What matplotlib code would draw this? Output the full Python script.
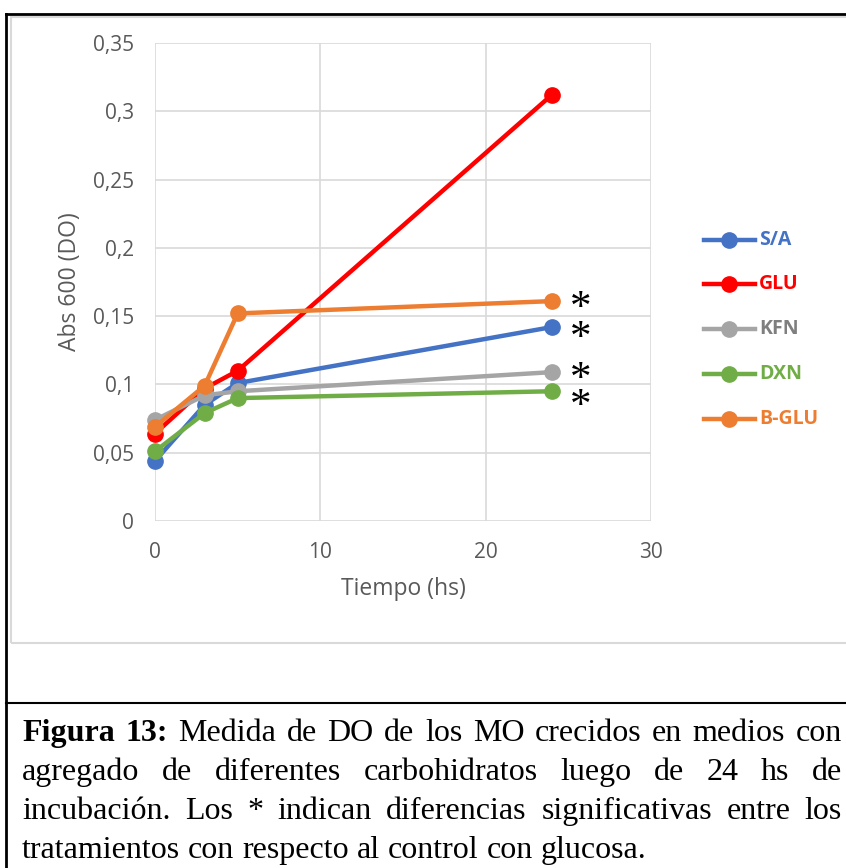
import matplotlib.pyplot as plt
from matplotlib.lines import Line2D
from matplotlib.patches import Rectangle

# datos
tiempo = [0, 3, 5, 24]
sa = [0.044, 0.085, 0.101, 0.142]
glu = [0.064, 0.097, 0.110, 0.312]
kfn = [0.074, 0.092, 0.095, 0.109]
dxn = [0.051, 0.079, 0.090, 0.095]
bglu = [0.069, 0.099, 0.152, 0.161]

nombres = ['S/A', 'GLU', 'KFN', 'DXN', 'B-GLU']
colores = ['#4472c4', '#ff0000', '#a5a5a5', '#70ad47', '#ed7d31']
colores_txt = ['#4472c4', '#ff0000', '#7f7f7f', '#70ad47', '#ed7d31']
series = [sa, glu, kfn, dxn, bglu]

# posiciones de los asteriscos (valor y)
ast_y = [0.1555, 0.1336, 0.1035, 0.0838]

caption = [
    ['Figura 13:', 'Medida de DO de los MO crecidos en medios con'],
    'agregado de diferentes carbohidratos luego de 24 hs de',
    'incubación. Los * indican diferencias significativas entre los',
    'tratamientos con respecto al control con glucosa.',
]

W, H = 846, 868
fig = plt.figure(figsize=(W / 100, H / 100), dpi=100)

font = ['Open Sans', 'DejaVu Sans']
gris = '#595959'

ax = fig.add_axes([155 / W, 1 - 521 / H, (651 - 155) / W, (521 - 43) / H])
ax.set_zorder(2)
ax.patch.set_alpha(0)
for i in range(len(series)):
    ax.plot(tiempo, series[i], color=colores[i], lw=3.2, marker='o',
            ms=11, clip_on=False, zorder=3 + i * 0.1)

ax.set_xlim(0, 30)
ax.set_ylim(0, 0.35)
ax.set_xticks([0, 10, 20, 30])
ax.set_yticks([0, 0.05, 0.1, 0.15, 0.2, 0.25, 0.3, 0.35])
ax.set_xticklabels(['0', '10', '20', '30'])
ax.set_yticklabels(['0', '0,05', '0,1', '0,15', '0,2', '0,25', '0,3', '0,35'])
ax.grid(True, color='#d9d9d9', lw=1.2)
ax.set_axisbelow(True)
for s in ax.spines.values():
    s.set_visible(False)
ax.tick_params(length=0, labelsize=15, labelcolor=gris)
ax.tick_params(axis='y', pad=15)
ax.tick_params(axis='x', pad=15)
for lab in ax.get_xticklabels() + ax.get_yticklabels():
    lab.set_family(font)
ax.set_xlabel('Tiempo (hs)', fontsize=16.5, color=gris, family=font, labelpad=10)
ax.set_ylabel('Abs 600 (DO)', fontsize=16.5, color=gris, family=font, labelpad=8)

for y in ast_y:
    ax.text(25.75, y, '*', fontsize=31, family='Liberation Serif',
            ha='center', va='center', color='black')

# leyenda
leg_y = [240, 284, 329, 374, 419]
for i, nombre in enumerate(nombres):
    y = 1 - leg_y[i] / H
    fig.add_artist(Line2D([704 / W, 755 / W], [y, y], color=colores[i], lw=3.2))
    fig.add_artist(Line2D([729 / W], [y], color=colores[i], marker='o', ms=11))
    fig.text(759 / W, y, nombre, fontsize=14, fontweight='bold',
             color=colores_txt[i], va='center', ha='left', family=font)

# marcos
fig.add_artist(Rectangle((11 / W, 1 - 643 / H), 1, (643 - 17) / H,
                         transform=fig.transFigure, fill=False,
                         ec='#d9d9d9', lw=1.5))
fig.add_artist(Line2D([6 / W, 6 / W], [0, 1 - 14 / H], color='black', lw=2))
fig.add_artist(Line2D([6 / W, 1], [1 - 14 / H, 1 - 14 / H], color='black', lw=2))
fig.add_artist(Line2D([6 / W, 1], [1 - 703 / H, 1 - 703 / H], color='black', lw=1.5))

# pie de figura justificado
x0, x1 = 22, 842
lineas_y = [741, 780, 819, 858]  # lineas base
fig.canvas.draw()
rend = fig.canvas.get_renderer()
cap_font = 'Liberation Serif'
cap_size = 23


def palabras_de(linea):
    res = []
    if isinstance(linea, list):
        for w in linea[0].split():
            res.append((w, 'bold'))
        for w in linea[1].split():
            res.append((w, 'normal'))
    else:
        for w in linea.split():
            res.append((w, 'normal'))
    return res


esp = fig.text(0, 0, 'a a', fontsize=cap_size, family=cap_font)
aa = fig.text(0, 0, 'aa', fontsize=cap_size, family=cap_font)
espacio = esp.get_window_extent(rend).width - aa.get_window_extent(rend).width
esp.remove()
aa.remove()

for k, linea in enumerate(caption):
    y = 1 - lineas_y[k] / H
    palabras = palabras_de(linea)
    textos = []
    anchos = []
    for w, peso in palabras:
        t = fig.text(0, y, w, fontsize=cap_size, family=cap_font,
                     fontweight=peso, va='baseline', ha='left')
        anchos.append(t.get_window_extent(rend).width)
        textos.append(t)
    if k < len(caption) - 1:
        hueco = (x1 - x0 - sum(anchos)) / (len(palabras) - 1)
    else:
        hueco = espacio
    x = x0
    for t, a in zip(textos, anchos):
        t.set_x(x / W)
        x += a + hueco

fig.savefig('out.png', dpi=100)
